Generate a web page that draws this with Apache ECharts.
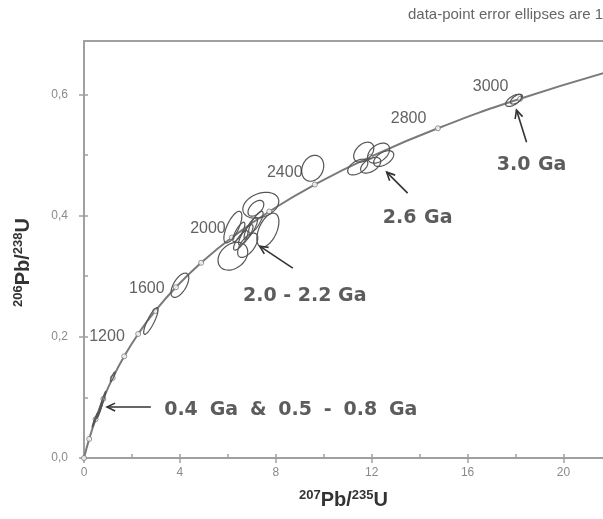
<!DOCTYPE html>
<html><head><meta charset="utf-8">
<script src="https://cdn.jsdelivr.net/npm/echarts@6/dist/echarts.min.js"></script>
<style>html,body{margin:0;padding:0;background:#fff}#c{width:603px;height:519px}</style>
</head><body><div id="c"></div>
<script>
// Concordia reference curve (age in Ma, 207Pb/235U, 206Pb/238U)
const concordiaAge = [0,200,400,600,800,1000,1200,1400,1600,1800,2000,2200,2400,2600,2800,3000,3200];
const concordiaX = [0,0.2177,0.4828,0.8056,1.1987,1.6774,2.2603,2.9701,3.8344,4.8869,6.1685,7.7292,9.6296,11.9437,14.7616,18.1937,22.3710];
const concordiaY = [0,0.0315,0.0640,0.0975,0.1321,0.1678,0.2046,0.2426,0.2817,0.3221,0.3638,0.4067,0.4511,0.4968,0.5440,0.5926,0.6428];

// Data-point error ellipses (centre, 1 sigma in x and y, error correlation)
const ellX   = [0.46,0.67,0.76,1.20, 2.79,4.00, 7.375,7.67,6.21,6.21,7.17,6.75,6.96,6.54,7.17,6.46,6.83, 9.54, 11.67,12.29,11.42,11.96,12.50, 17.92,18.04];
const ellY   = [0.063,0.080,0.092,0.134, 0.226,0.285, 0.417,0.376,0.333,0.381,0.412,0.368,0.379,0.359,0.389,0.373,0.351, 0.478, 0.5045,0.503,0.480,0.483,0.494, 0.590,0.592];
const ellSx  = [0.12,0.12,0.15,0.10, 0.30,0.37, 0.75,0.46,0.62,0.375,0.33,0.30,0.28,0.30,0.30,0.25,0.42, 0.46, 0.42,0.46,0.42,0.42,0.42, 0.33,0.25];
const ellSy  = [0.012,0.014,0.018,0.008, 0.022,0.020, 0.0214,0.028,0.023,0.026,0.013,0.017,0.018,0.016,0.018,0.016,0.020, 0.0214, 0.0165,0.0165,0.013,0.013,0.013, 0.010,0.008];
const ellRho = [0.97,0.97,0.97,0.9, 0.85,0.6, 0.3,0.5,0.3,0.7,0.5,0.8,0.8,0.8,0.8,0.8,0.6, 0.2, 0.4,0.4,0.5,0.5,0.5, 0.6,0.6];

// Axis ticks
const xTicks = [0,4,8,12,16,20];
const xMinorTicks = [0,2,4,6,8,10,12,14,16,18,20];
const yTicks = [0,0.2,0.4,0.6];
const yMinorTicks = [0,0.1,0.2,0.3,0.4,0.5,0.6];

// Age labels on the concordia
const ageLabelText = ['1200','1600','2000','2400','2800','3000'];
const ageLabelX = [0.96,2.62,5.17,8.375,13.54,16.96];
const ageLabelY = [0.201,0.280,0.379,0.4716,0.5606,0.613];

// Population annotations and arrows
const noteText = ['3.0 Ga','2.6 Ga','2.0 - 2.2 Ga','0.4 Ga & 0.5 - 0.8 Ga'];
const noteX = [18.67,13.92,9.21,8.625];
const noteY = [0.483,0.3957,0.267,0.0791];
const arrowFromX = [18.46,13.50,8.71,2.79];
const arrowFromY = [0.521,0.437,0.3133,0.0841];
const arrowToX = [18.04,12.625,7.33,0.96];
const arrowToY = [0.574,0.4716,0.3495,0.0841];

// styling
const NOTE_WORD_PAD = [0.5,0.5,0,2.6];
const X_MIN = 0, X_MAX = 21.65, Y_MIN = 0, Y_MAX = 0.688;
const AXIS_COLOR = '#a0a0a0';
const FONT = "'Liberation Sans', Arial, sans-serif";
const BOLD_FONT = "'DejaVu Sans', sans-serif";
const NOTE_STYLE = {color:'#333', fontSize:19, fontWeight:'bold', fontFamily:BOLD_FONT};

const curveData = concordiaX.map((x,i)=>[x, concordiaY[i]]);
const ellData = ellX.map((x,i)=>[x, ellY[i], ellSx[i], ellSy[i], ellRho[i]]);
const ageData = ageLabelText.map((t,i)=>({name:t, value:[ageLabelX[i], ageLabelY[i]]}));
const noteData = noteText.map((t,i)=>({name:t, value:[noteX[i], noteY[i]],
  label:{rich:{w:Object.assign({padding:[0,NOTE_WORD_PAD[i]]}, NOTE_STYLE)}}}));
const arrowData = arrowFromX.map((x,i)=>[x, arrowFromY[i], arrowToX[i], arrowToY[i]]);

const nameRich = {
  s:{fontSize:13, fontWeight:'bold', color:'#333', fontFamily:FONT, verticalAlign:'top', lineHeight:22},
  m:{fontSize:20, fontWeight:'bold', color:'#333', fontFamily:FONT, lineHeight:22}
};

const chart = echarts.init(document.getElementById('c'), null, {renderer:'canvas'});
chart.setOption({
  animation:false,
  backgroundColor:'#fff',
  title:{text:'data-point error ellipses are 1σ', left:408, top:7, padding:0,
    textStyle:{fontSize:15, fontWeight:'normal', color:'#666', fontFamily:FONT}},
  grid:{left:84, right:0, top:41, bottom:61},
  xAxis:[
    {type:'value', min:X_MIN, max:X_MAX, position:'bottom',
     name:'{s|207}{m|Pb/}{s|235}{m|U}', nameLocation:'middle', nameGap:31,
     nameTextStyle:{rich:nameRich},
     axisLine:{show:true, onZero:false, lineStyle:{color:AXIS_COLOR, width:2}},
     axisTick:{show:true, inside:false, length:5, lineStyle:{color:AXIS_COLOR, width:1.5}, customValues:xTicks},
     axisLabel:{show:true, margin:9, color:'#8a8a8a', fontSize:12, fontFamily:FONT, customValues:xTicks},
     splitLine:{show:false}},
    {type:'value', min:X_MIN, max:X_MAX, position:'bottom',
     axisLine:{show:false}, axisLabel:{show:false}, splitLine:{show:false},
     axisTick:{show:true, inside:true, length:4, lineStyle:{color:AXIS_COLOR, width:1.5}, customValues:xMinorTicks}},
    {type:'value', min:X_MIN, max:X_MAX, position:'top',
     axisLine:{show:true, onZero:false, lineStyle:{color:AXIS_COLOR, width:2}},
     axisTick:{show:false}, axisLabel:{show:false}, splitLine:{show:false}}
  ],
  yAxis:[
    {type:'value', min:Y_MIN, max:Y_MAX, position:'left',
     name:'{s|206}{m|Pb/}{s|238}{m|U}', nameLocation:'middle', nameGap:50,
     nameTextStyle:{rich:nameRich, padding:[0,26,0,0]},
     axisLine:{show:true, onZero:false, lineStyle:{color:AXIS_COLOR, width:2}},
     axisTick:{show:true, inside:false, length:5, lineStyle:{color:AXIS_COLOR, width:1.5}, customValues:yTicks},
     axisLabel:{show:true, margin:16, color:'#8a8a8a', fontSize:12, fontFamily:FONT, customValues:yTicks,
       formatter:v=>v.toFixed(1).replace('.', ',')},
     splitLine:{show:false}},
    {type:'value', min:Y_MIN, max:Y_MAX, position:'left',
     axisLine:{show:false}, axisLabel:{show:false}, splitLine:{show:false},
     axisTick:{show:true, inside:true, length:4, lineStyle:{color:AXIS_COLOR, width:1.5}, customValues:yMinorTicks}}
  ],
  series:[
    {type:'line', data:curveData, smooth:true, showSymbol:false, clip:true, silent:true,
     lineStyle:{color:'#7a7a7a', width:2}, z:2},
    {type:'scatter', data:curveData, symbol:'circle', symbolSize:5, silent:true, clip:true,
     itemStyle:{color:'#fff', borderColor:'#777', borderWidth:1}, z:3},
    {type:'custom', data:ellData, clip:true, silent:true, z:4,
     encode:{x:0, y:1},
     renderItem:function(params, api){
       const cx=api.value(0), cy=api.value(1), sx=api.value(2), sy=api.value(3), r=api.value(4);
       const q=Math.sqrt(1-r*r); const pts=[];
       for(let k=0;k<60;k++){
         const t=2*Math.PI*k/60;
         pts.push(api.coord([cx+sx*Math.cos(t), cy+sy*(r*Math.cos(t)+q*Math.sin(t))]));
       }
       return {type:'polygon', shape:{points:pts}, style:{fill:null, stroke:'#555', lineWidth:1.2}};
     }},
    {type:'custom', data:arrowData, silent:true, z:5, encode:{x:[0,2], y:[1,3]},
     renderItem:function(params, api){
       const p1=api.coord([api.value(0), api.value(1)]);
       const p2=api.coord([api.value(2), api.value(3)]);
       const a=Math.atan2(p2[1]-p1[1], p2[0]-p1[0]);
       const L=9, w=0.45;
       const h1=[p2[0]-L*Math.cos(a-w), p2[1]-L*Math.sin(a-w)];
       const h2=[p2[0]-L*Math.cos(a+w), p2[1]-L*Math.sin(a+w)];
       return {type:'group', children:[
         {type:'line', shape:{x1:p1[0], y1:p1[1], x2:p2[0], y2:p2[1]}, style:{stroke:'#333', lineWidth:1.6}},
         {type:'polyline', shape:{points:[h1,p2,h2]}, style:{fill:null, stroke:'#333', lineWidth:1.6}}
       ]};
     }},
    {type:'scatter', data:ageData, symbolSize:0, silent:true, z:6,
     label:{show:true, position:'inside', formatter:'{b}', color:'#3a3a3a', fontSize:16, fontFamily:FONT}},
    {type:'scatter', data:noteData, symbolSize:0, silent:true, z:6,
     label:Object.assign({show:true, position:'inside',
       formatter:p=>p.name.split(' ').map(w=>'{w|'+w+'}').join(' ')}, NOTE_STYLE)}
  ]
});
</script></body></html>
